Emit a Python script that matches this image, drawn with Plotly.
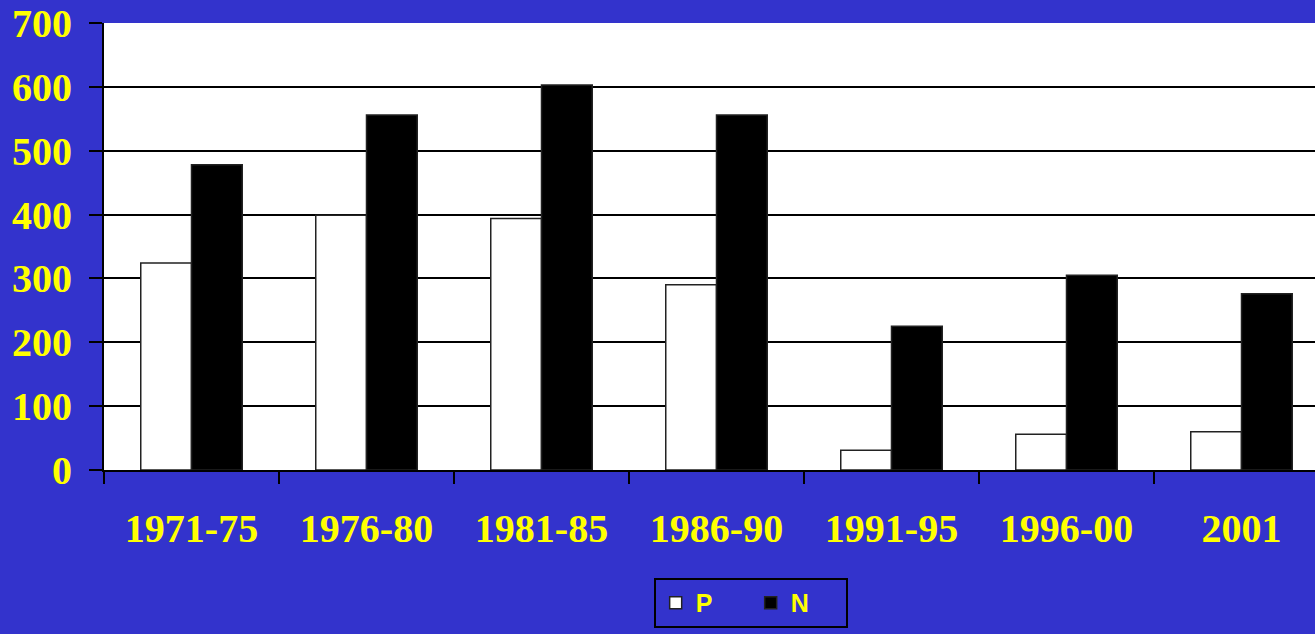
import plotly.graph_objects as go

categories = ["1971-75", "1976-80", "1981-85", "1986-90", "1991-95", "1996-00", "2001"]
p_values = [324, 399, 394, 290, 31, 56, 60]
n_values = [478, 556, 603, 556, 225, 305, 276]
y_ticks = [0, 100, 200, 300, 400, 500, 600, 700]

BG = "#3333CC"
YEL = "#FFFF00"

fig = go.Figure()
fig.add_trace(go.Bar(name="P", x=categories, y=p_values,
                     marker=dict(color="white", line=dict(color="#222222", width=1.5))))
fig.add_trace(go.Bar(name="N", x=categories, y=n_values,
                     marker=dict(color="black", line=dict(color="#222222", width=1.5))))

fig.update_layout(
    width=1315, height=634,
    paper_bgcolor=BG, plot_bgcolor="white",
    margin=dict(l=104, r=0, t=23, b=164),
    barmode="group", bargap=0.42, bargroupgap=0,
    showlegend=True,
    legend=dict(orientation="h", x=0.534, xanchor="center", y=-0.2416, yanchor="top",
                bgcolor=BG, bordercolor="black", borderwidth=2,
                font=dict(family="Liberation Sans, Arial", size=25, color=YEL, weight="bold"),
                entrywidth=50),
)
fig.update_xaxes(
    type="category", range=[-0.5, 6.42], tickson="boundaries",
    ticks="outside", ticklen=12, tickwidth=2, tickcolor="black",
    showline=True, linecolor="black", linewidth=2, showgrid=False,
    tickfont=dict(family="Liberation Serif, Times New Roman", size=40, color=YEL, weight="bold"),
    ticklabelstandoff=22,
)
fig.update_yaxes(
    range=[0, 700], tickvals=y_ticks,
    ticks="outside", ticklen=13, tickwidth=2, tickcolor="black",
    showline=True, linecolor="black", linewidth=2,
    showgrid=True, gridcolor="black", gridwidth=1.5, zeroline=False,
    tickfont=dict(family="Liberation Serif, Times New Roman", size=40, color=YEL, weight="bold"),
    ticklabelstandoff=9,
)

fig.write_html("out.html", config={"displayModeBar": False},
               post_script="document.body.style.margin='0';document.body.style.overflow='hidden';")
